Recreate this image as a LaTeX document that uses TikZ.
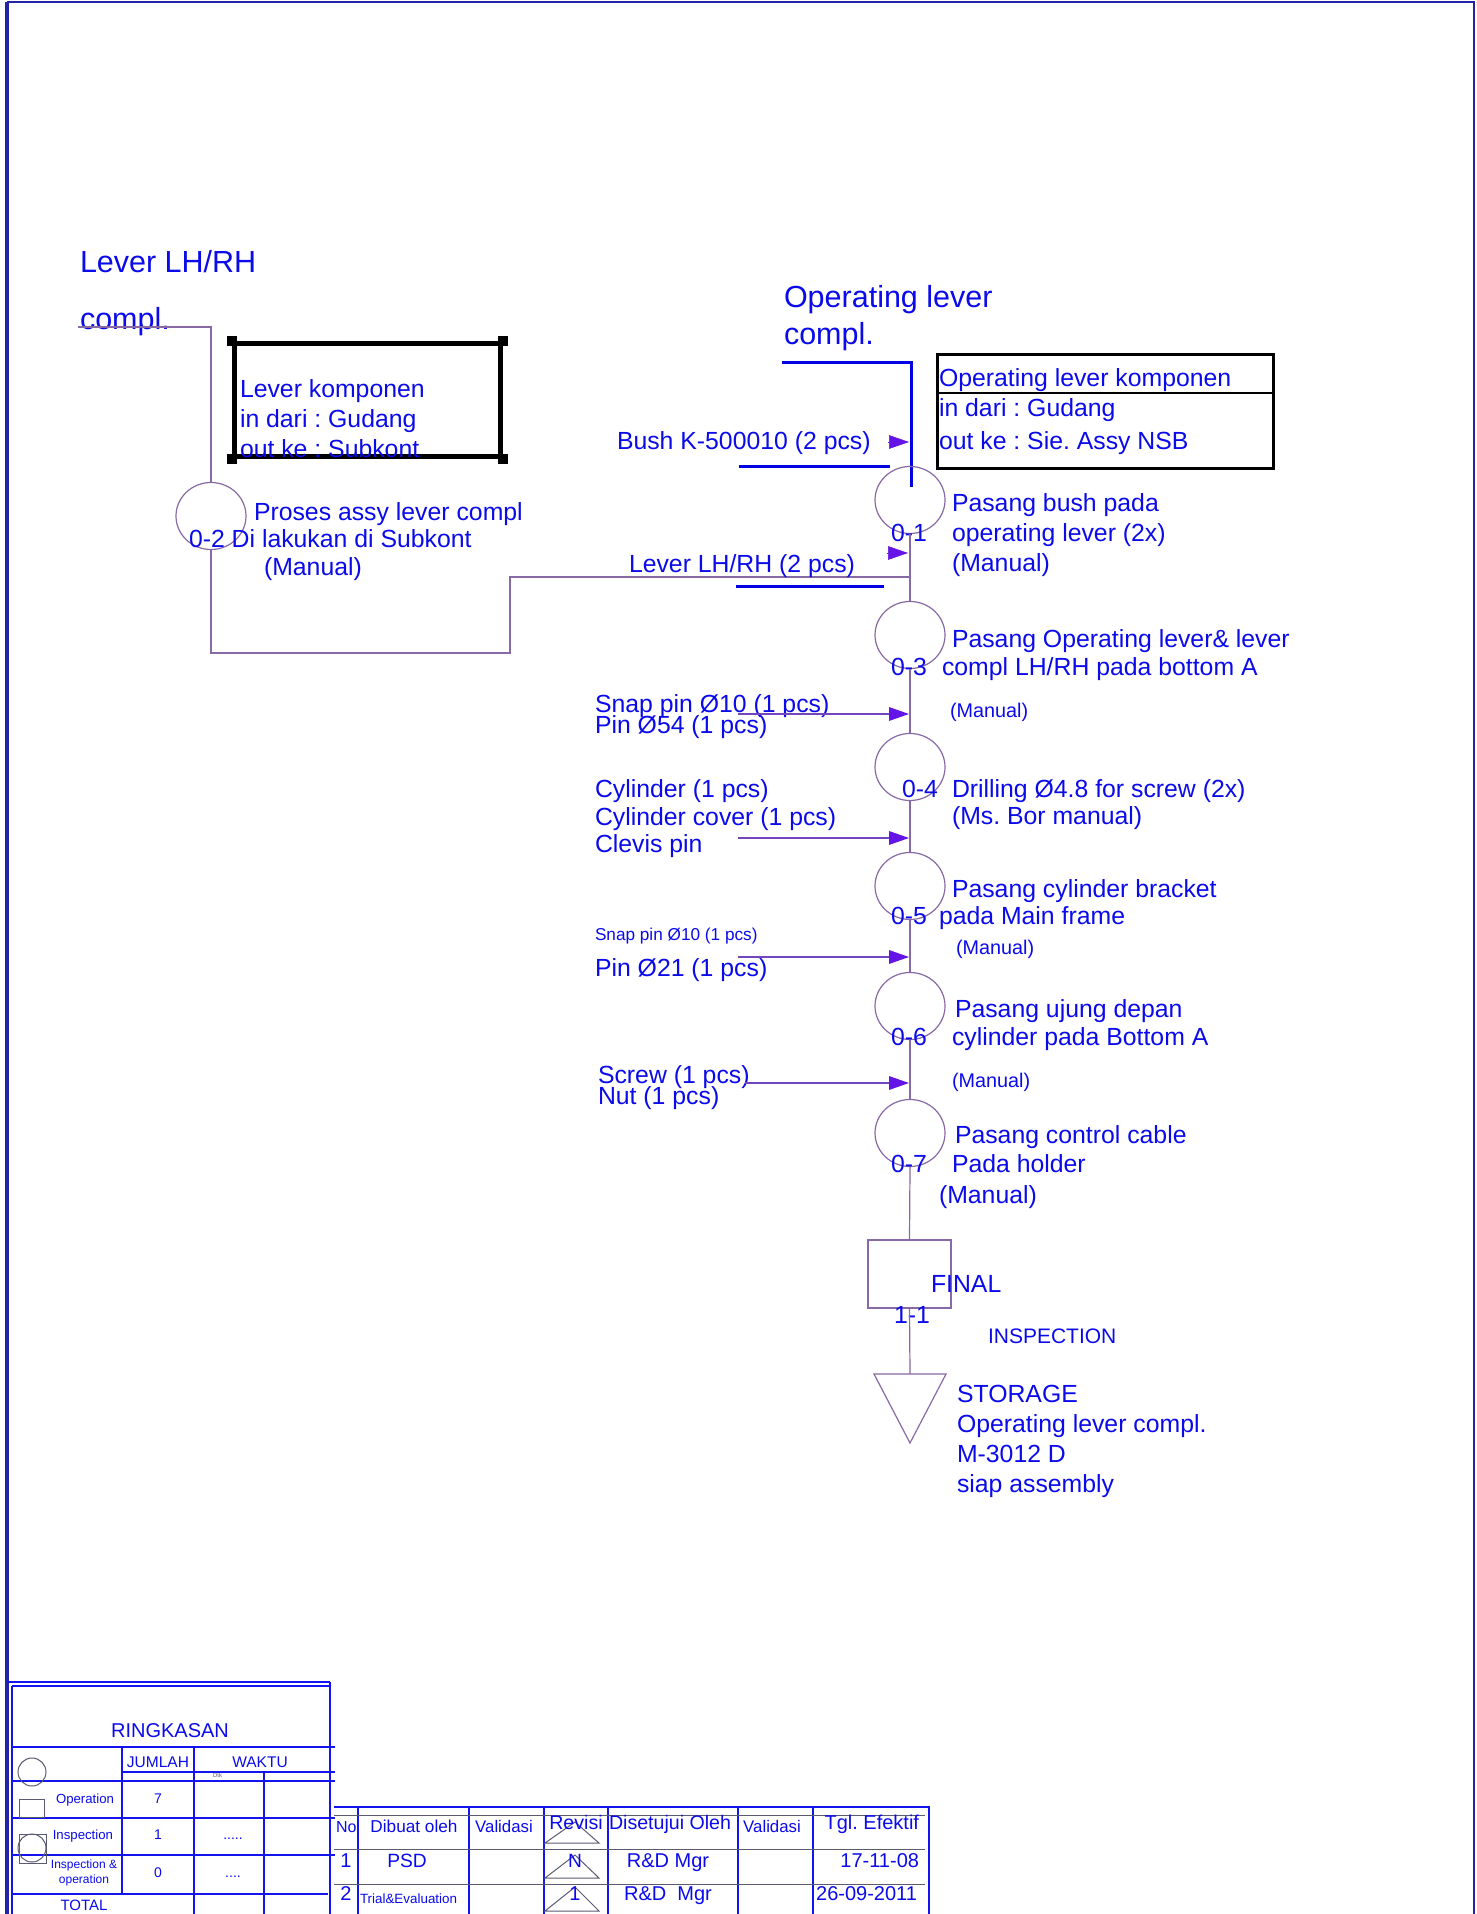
\documentclass[tikz,border=0pt]{standalone}
\usepackage{fontspec}
\setmainfont{Liberation Sans}
\usetikzlibrary{arrows.meta,shapes.geometric}
\newcommand\myfs[2]{\fontsize{#1}{#2}\selectfont}
\definecolor{txtblue}{RGB}{10,10,235}
\definecolor{tabblue}{RGB}{20,20,240}
\definecolor{navy}{RGB}{35,35,170}
\definecolor{flowpurple}{RGB}{135,105,165}
\definecolor{headviolet}{RGB}{100,20,230}
\definecolor{shaftpurple}{RGB}{115,70,190}
\definecolor{linkblue}{RGB}{0,0,225}
\definecolor{symgray}{RGB}{90,90,115}
\begin{document}
\frenchspacing
\begin{tikzpicture}[x=0.5pt,y=-0.5pt,
  txt/.style={inner sep=0pt, outer sep=0pt, anchor=base west, text=txtblue, font=\frenchspacing\myfs{12.4}{15}, align=left},
  txtc/.style={txt, anchor=base, align=center},
  txte/.style={txt, anchor=base east},
  ttl/.style={txt, font=\myfs{15.25}{18}},
  smallm/.style={txt, font=\myfs{9.9}{12}},
  opc/.style={draw=flowpurple, line width=0.6pt, ellipse, minimum width=35pt, minimum height=33.5pt, inner sep=0pt},
  flow/.style={draw=flowpurple, line width=0.6pt},
  link/.style={draw=linkblue, line width=1.5pt},
  inarrow/.style={draw=shaftpurple, line width=0.7pt, -{Triangle[length=10pt,width=6.8pt,color=headviolet]}},
  headonly/.style={draw=headviolet, line width=0.3pt, -{Triangle[length=10pt,width=6.8pt,color=headviolet]}},
  tab/.style={draw=tabblue, line width=1.15pt},
  grayline/.style={draw=symgray, line width=0.5pt},
]
\useasboundingbox (0,0) rectangle (1476,1914);
% page border
\draw[navy, line width=1pt] (7,2) -- (1474,2) -- (1474,1914);
\draw[navy, line width=1.6pt] (7,1914) -- (7,2);

% ---------- left branch ----------
\node[ttl] (lvt1) at (80,273) {Lever LH/RH};
\node[ttl] (lvt2) at (80,330) {compl.};
\coordinate (lvs) at (78,327);
\node[opc] (o2) at (211,516) {};
\draw[flow] (lvs) -| (o2.north);
\node[draw=black, line width=2.5pt, minimum width=133pt, minimum height=56.5pt, inner sep=0pt] (box1) at (367,400.5) {};
\foreach \c in {north west, north east, south west, south east}
  \fill[black] (box1.\c) ++(-5,-5) rectangle ++(10,10);
\node[txt] (b1t) at (240,458) {Lever komponen\\in dari : Gudang\\out ke : Subkont};
\node[txt] (p2a) at (254,521) {Proses assy lever compl};
\node[txt] (p2b) at (189,547) {0-2 Di lakukan di Subkont};
\node[txt] (p2c) at (264,575) {(Manual)};
\coordinate (lb1) at (211,653);
\coordinate (lb2) at (510,653);
\coordinate (lb3) at (510,577);
\coordinate (lvend) at (910,577);
\draw[flow] (o2.south) -- (lb1) -- (lb2) -- (lb3) -- (lvend);

% ---------- main column ----------
\node[ttl] (olt1) at (784,308) {Operating lever};
\node[ttl] (olt2) at (784,345) {compl.};
\coordinate (ol1) at (782,363);
\coordinate (ol2) at (911,363);
\coordinate (ol3) at (911,487);
\draw[link] (ol1) -- (ol2) -- (ol3);

\node[draw=black, line width=1.3pt, minimum width=168pt, minimum height=57pt, inner sep=0pt, anchor=north west] (box2) at (936,353) {};
\draw[black, line width=1.3pt] (936,393) -- (1272,393);
\node[txt] (b2a) at (939,387) {Operating lever komponen};
\node[txt] (b2b) at (939,417) {in dari : Gudang};
\node[txt] (b2c) at (939,450) {out ke : Sie. Assy NSB};

\node[txt] (bush) at (617,450) {Bush K-500010 (2 pcs)};
\coordinate (bushh) at (888,442);
\coordinate (bushe) at (909,442);
\draw[headonly] (bushh) -- (bushe);
\coordinate (bl1) at (739,467);
\coordinate (bl2) at (890,467);
\draw[link] (bl1) -- (bl2);

\node[opc] (o1) at (910,500) {};
\node[txt] (n01) at (891,542) {0-1};
\node[txt] (d01) at (952,572) {Pasang bush pada\\operating lever (2x)\\(Manual)};

\node[txt] (lvin) at (629,573) {Lever LH/RH (2 pcs)};
\coordinate (lvh) at (887,553);
\coordinate (lve) at (908,553);
\draw[headonly] (lvh) -- (lve);
\coordinate (ll1) at (736,586);
\coordinate (ll2) at (884,586);
\draw[link] (ll1) -- (ll2);

\node[opc] (o3) at (910,635) {};
\node[txt] (d03a) at (952,647) {Pasang Operating lever\& lever};
\node[txt] (n03) at (891,675) {0-3};
\node[txt] (d03b) at (942,675) {compl LH/RH pada bottom A};
\node[smallm] (m03) at (950,717) {(Manual)};
\node[txt] (i03a) at (595,712) {Snap pin Ø10 (1 pcs)};
\node[txt] (i03b) at (595,733) {Pin Ø54 (1 pcs)};
\coordinate (a3s) at (738,714);
\coordinate (a3e) at (909,714);
\draw[inarrow] (a3s) -- (a3e);

\node[opc] (o4) at (910,767) {};
\node[txt] (n04) at (902,797) {0-4};
\node[txt] (d04a) at (952,797) {Drilling Ø4.8 for screw (2x)};
\node[txt] (d04b) at (952,824) {(Ms. Bor manual)};
\node[txt] (i04a) at (595,797) {Cylinder (1 pcs)};
\node[txt] (i04b) at (595,825) {Cylinder cover (1 pcs)};
\node[txt] (i04c) at (595,852) {Clevis pin};
\coordinate (a4s) at (738,838);
\coordinate (a4e) at (909,838);
\draw[inarrow] (a4s) -- (a4e);

\node[opc] (o5) at (910,886) {};
\node[txt] (d05a) at (952,897) {Pasang cylinder bracket};
\node[txt] (n05) at (891,924) {0-5};
\node[txt] (d05b) at (939,924) {pada Main frame};
\node[smallm] (m05) at (956,954) {(Manual)};
\node[txt, font=\myfs{8.6}{10}] (i05a) at (595,940) {Snap pin Ø10 (1 pcs)};
\node[txt] (i05b) at (595,976) {Pin Ø21 (1 pcs)};
\coordinate (a5s) at (738,957);
\coordinate (a5e) at (909,957);
\draw[inarrow] (a5s) -- (a5e);

\node[opc] (o6) at (910,1006) {};
\node[txt] (d06a) at (955,1017) {Pasang ujung depan};
\node[txt] (n06) at (891,1045) {0-6};
\node[txt] (d06b) at (952,1045) {cylinder pada Bottom A};
\node[smallm] (m06) at (952,1087) {(Manual)};
\node[txt] (i06a) at (598,1083) {Screw (1 pcs)};
\node[txt] (i06b) at (598,1104) {Nut (1 pcs)};
\coordinate (a6s) at (745,1083);
\coordinate (a6e) at (909,1083);
\draw[inarrow] (a6s) -- (a6e);

\node[opc] (o7) at (910,1133) {};
\node[txt] (d07a) at (955,1143) {Pasang control cable};
\node[txt] (n07) at (891,1172) {0-7};
\node[txt] (d07b) at (952,1172) {Pada holder};
\node[txt] (d07c) at (939,1203) {(Manual)};

\node[draw=flowpurple, line width=1.2pt, minimum width=41.5pt, minimum height=34pt, inner sep=0pt] (fin) at (909.5,1274) {};
\node[txt] (fint) at (931,1292) {FINAL};
\node[txt] (n11) at (894,1323) {1-1};
\node[txt, font=\myfs{10.5}{12}] (insp) at (988,1343) {INSPECTION};

\coordinate (st1) at (874,1374);
\coordinate (st2) at (946,1374);
\coordinate (st3) at (910,1443);
\coordinate (stn) at (910,1374);
\draw[flow] (st1) -- (st2) -- (st3) -- cycle;
\node[txt] (stt) at (957,1492) {STORAGE\\Operating lever compl.\\M-3012 D\\siap assembly};

\draw[flow] (o1.south) -- (o3.north);
\draw[flow] (o3.south) -- (o4.north);
\draw[flow] (o4.south) -- (o5.north);
\draw[flow] (o5.south) -- (o6.north);
\draw[flow] (o6.south) -- (o7.north);
\draw[flow] (o7.south) -- (fin.north);
\draw[flow] (fin.south) -- (stn);

% ---------- RINGKASAN table ----------
\draw[tab] (7,1682) -- (330,1682);
\draw[tab] (12,1686) -- (330,1686);
\draw[tab] (12,1686) -- (12,1914);
\draw[tab] (330,1682) -- (330,1914);
\draw[tab] (12,1747) -- (335,1747);
\draw[tab] (122,1747) -- (122,1894);
\draw[tab] (194,1747) -- (194,1914);
\draw[tab] (122,1772) -- (335,1772);
\draw[tab] (12,1781) -- (335,1781);
\draw[tab] (264,1772) -- (264,1914);
\draw[tab] (12,1818) -- (335,1818);
\draw[tab] (12,1855) -- (335,1855);
\draw[tab] (12,1894) -- (328,1894);
\node[txtc, font=\myfs{10}{12}] (rk) at (170,1737) {RINGKASAN};
\node[txtc, font=\myfs{7.75}{9}] (jm) at (158,1767) {JUMLAH};
\node[txtc, font=\myfs{7.75}{9}] (wk) at (260,1767) {WAKTU};
\node[txt, font=\myfs{3}{4}, text=symgray] (dtk) at (213,1777) {Dtk};
\draw[grayline] (32,1772) circle[radius=14];
\draw[grayline] (19,1799) rectangle (44,1817);
\draw[grayline] (19,1834) rectangle (46,1863);
\draw[grayline] (32,1848) circle[radius=14];
\node[txte, font=\myfs{6.6}{8}] (op) at (114,1803) {Operation};
\node[txte, font=\myfs{6.6}{8}] (ins) at (113,1839) {Inspection};
\node[txtc, font=\myfs{6}{7.2}] (iop) at (84,1883) {Inspection \&\\operation};
\node[txtc, font=\myfs{7.5}{9}] (tot) at (84,1910) {TOTAL};
\node[txtc, font=\myfs{7}{8}] (v7) at (158,1803) {7};
\node[txtc, font=\myfs{7}{8}] (v1) at (158,1839) {1};
\node[txtc, font=\myfs{7}{8}] (v0) at (158,1877) {0};
\node[txtc, font=\myfs{7}{8}] (w1) at (233,1839) {.....};
\node[txtc, font=\myfs{7}{8}] (w0) at (233,1877) {....};

% ---------- revision table ----------
\draw[tab] (334,1807) -- (929,1807) -- (929,1914);
\foreach \x in {358,469,544,608,738,813}
  \draw[tab] (\x,1807) -- (\x,1914);
\draw[grayline] (334,1815) -- (925,1815);
\draw[grayline] (334,1849) -- (925,1849);
\draw[grayline] (334,1884) -- (925,1884);
\draw[grayline] (545,1843) -- (575,1822) -- (599,1843) -- cycle;
\draw[grayline] (545,1878) -- (575,1855) -- (599,1878) -- cycle;
\draw[grayline] (545,1911) -- (575,1887) -- (599,1911) -- cycle;
\node[txt, font=\myfs{8}{9}] (hno) at (336,1832) {No};
\node[txtc, font=\myfs{8.6}{10}] (hdb) at (414,1832) {Dibuat oleh};
\node[txtc, font=\myfs{8.4}{10}] (hv1) at (504,1832) {Validasi};
\node[txtc, font=\myfs{9.8}{11}] (hrv) at (576,1829) {Revisi};
\node[txtc, font=\myfs{9.8}{11}] (hds) at (670,1829) {Disetujui Oleh};
\node[txtc, font=\myfs{8.4}{10}] (hv2) at (772,1832) {Validasi};
\node[txte, font=\myfs{10}{12}] (htg) at (919,1829) {Tgl. Efektif};
\node[txtc, font=\myfs{10}{12}] (r1no) at (346,1867) {1};
\node[txtc, font=\myfs{9.6}{11}] (r1db) at (407,1867) {PSD};
\node[txtc, font=\myfs{9.6}{11}] (r1rv) at (575,1867) {N};
\node[txtc, font=\myfs{10}{12}] (r1ds) at (668,1867) {R\&D Mgr};
\node[txte, font=\myfs{10}{12}] (r1tg) at (919,1867) {17-11-08};
\node[txtc, font=\myfs{10}{12}] (r2no) at (346,1900) {2};
\node[txt, font=\myfs{6.7}{8}] (r2db) at (360,1903) {Trial\&Evaluation};
\node[txtc, font=\myfs{10}{12}] (r2rv) at (575,1900) {1};
\node[txtc, font=\myfs{10}{12}] (r2ds) at (668,1900) {R\&D\ \ Mgr};
\node[txte, font=\myfs{10}{12}] (r2tg) at (917,1900) {26-09-2011};
\end{tikzpicture}
\end{document}
